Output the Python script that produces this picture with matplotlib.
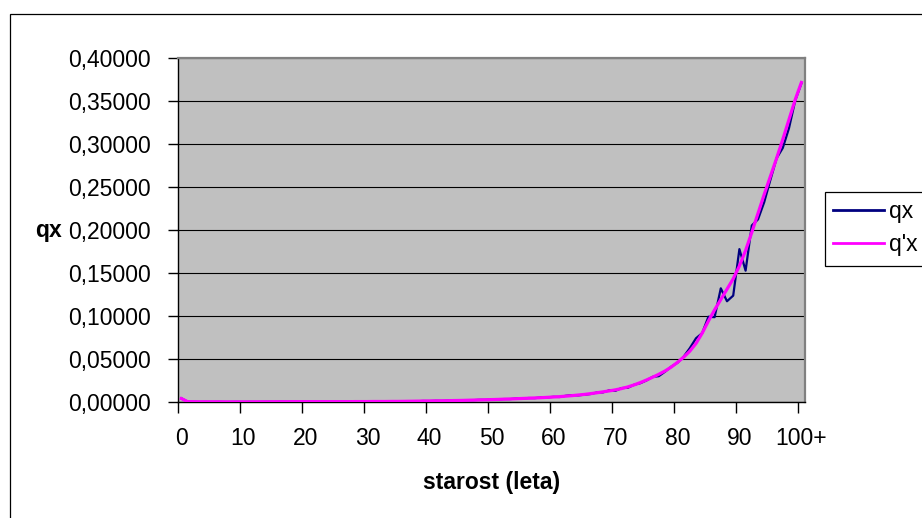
import matplotlib
matplotlib.use("Agg")
import matplotlib.pyplot as plt
from matplotlib.patches import Rectangle
from matplotlib.ticker import FixedLocator, FuncFormatter, NullFormatter

plt.rcParams['font.family'] = ['Liberation Sans', 'DejaVu Sans']

# Age categories 0..100 (last one is "100+")
ages = list(range(101))
x_tick_labels = [str(a) for a in range(0, 100, 10)] + ["100+"]

# Observed mortality rates qx
qx = [
    0.0042, 0.0003, 0.0002, 0.0001, 0.0002, 0.0001, 0.0002, 0.0001, 0.0001, 0.0002,
    0.0001, 0.0002, 0.0001, 0.0002, 0.0003, 0.0002, 0.0004, 0.0003, 0.0004, 0.0003,
    0.0005, 0.0004, 0.0003, 0.0005, 0.0004, 0.0003, 0.0005, 0.0004, 0.0005, 0.0006,
    0.0004, 0.0006, 0.0007, 0.0005, 0.0008, 0.0007, 0.0008, 0.0010, 0.0009, 0.0012,
    0.0011, 0.0014, 0.0013, 0.0016, 0.0016, 0.0019, 0.0021, 0.0021, 0.0025, 0.0025,
    0.0030, 0.0029, 0.0034, 0.0034, 0.0040, 0.0040, 0.0046, 0.0045, 0.0052, 0.0053,
    0.0060, 0.0058, 0.0072, 0.0080, 0.0077, 0.0085, 0.0093, 0.0110, 0.0112, 0.0135,
    0.0130, 0.0162, 0.0165, 0.0200, 0.0218, 0.0250, 0.0292, 0.0300, 0.0352, 0.0410,
    0.0455, 0.0525, 0.0625, 0.0740, 0.0800, 0.0990, 0.0985, 0.1320, 0.1170, 0.1235,
    0.1775, 0.1525, 0.2050, 0.2120, 0.2320, 0.2580, 0.2830, 0.2950, 0.3180, 0.3500,
    0.3700,
]

# Smoothed mortality rates q'x
qx_smooth = [
    0.0040, 0.0004, 0.0003, 0.0002, 0.0002, 0.0002, 0.0002, 0.0001, 0.0001, 0.0001,
    0.0001, 0.0001, 0.0002, 0.0002, 0.0002, 0.0003, 0.0003, 0.0003, 0.0004, 0.0004,
    0.0004, 0.0004, 0.0004, 0.0004, 0.0004, 0.0004, 0.0004, 0.0004, 0.0005, 0.0005,
    0.0005, 0.0006, 0.0006, 0.0006, 0.0007, 0.0007, 0.0008, 0.0009, 0.0010, 0.0011,
    0.0012, 0.0013, 0.0014, 0.0015, 0.0017, 0.0018, 0.0020, 0.0022, 0.0024, 0.0026,
    0.0028, 0.0030, 0.0033, 0.0035, 0.0038, 0.0041, 0.0044, 0.0047, 0.0050, 0.0054,
    0.0058, 0.0062, 0.0068, 0.0074, 0.0081, 0.0088, 0.0097, 0.0107, 0.0118, 0.0129,
    0.0141, 0.0156, 0.0175, 0.0198, 0.0225, 0.0255, 0.0287, 0.0322, 0.0360, 0.0405,
    0.0460, 0.0520, 0.0590, 0.0680, 0.0800, 0.0940, 0.1070, 0.1190, 0.1310, 0.1430,
    0.1580, 0.1760, 0.1970, 0.2190, 0.2410, 0.2620, 0.2830, 0.3050, 0.3280, 0.3510,
    0.3710,
]

W, H = 922, 518
fig = plt.figure(figsize=(W / 100, H / 100), dpi=100)
fig.patch.set_facecolor("white")

# Outer chart border (runs off the right and bottom edges)
fig.add_artist(Rectangle((9.5 / W, -0.2), 1.2, (H - 14) / H + 0.2,
                         transform=fig.transFigure, fill=False,
                         edgecolor="black", linewidth=0.9))

left, right, top, bottom = 178.3, 804.5, 57.5, 402.0
ax = fig.add_axes([left / W, 1 - bottom / H, (right - left) / W, (bottom - top) / H])
ax.set_facecolor("#C0C0C0")

# Each category occupies one unit; points sit in the middle of their category
xpos = [a + 0.5 for a in ages]
ax.plot(xpos, qx, color="#000080", linewidth=1.6, label="qx", zorder=3)
ax.plot(xpos, qx_smooth, color="#FF00FF", linewidth=2.3, label="q'x", zorder=4)

ax.set_xlim(0, 101)
ax.set_ylim(0, 0.40)

# Category boundaries carry the tick marks, labels sit at category centres
ax.xaxis.set_major_locator(FixedLocator(list(range(0, 101, 10))))
ax.xaxis.set_major_formatter(NullFormatter())
ax.xaxis.set_minor_locator(FixedLocator([a + 0.5 for a in range(0, 101, 10)]))
ax.xaxis.set_minor_formatter(FuncFormatter(lambda v, p: x_tick_labels[int(v) // 10]))
ax.tick_params(axis="x", which="major", direction="out", length=8, width=1, color="black")
ax.tick_params(axis="x", which="minor", length=0, pad=18, labelsize=16.5)

yticks = [i * 0.05 for i in range(9)]
ax.yaxis.set_major_locator(FixedLocator(yticks))
ax.yaxis.set_major_formatter(FuncFormatter(lambda v, p: f"{v:.5f}".replace(".", ",")))
ax.tick_params(axis="y", which="major", direction="out", length=7, width=1,
               color="black", pad=13, labelsize=16.5)

ax.grid(axis="y", color="black", linewidth=0.8, zorder=1)
ax.set_axisbelow(True)

for side in ("top", "right"):
    ax.spines[side].set_color("#808080")
    ax.spines[side].set_linewidth(1.6)
for side in ("left", "bottom"):
    ax.spines[side].set_color("black")
    ax.spines[side].set_linewidth(1.0)

ax.set_ylabel("qx", fontsize=16.5, fontweight="bold", rotation=0, va="center", ha="center")
ax.yaxis.set_label_coords((49 - left) / (right - left), (bottom - 230) / (bottom - top))
ax.set_xlabel("starost (leta)", fontsize=16.5, fontweight="bold")
ax.xaxis.label.set_va("center")
ax.xaxis.set_label_coords(0.5, -(482 - bottom) / (bottom - top))

# Legend frame: a white box that runs past the right edge of the figure
leg_x0, leg_top, leg_bot = 825.3, 191.7, 266.0
fig.add_artist(Rectangle((leg_x0 / W, 1 - leg_bot / H), 0.2, (leg_bot - leg_top) / H,
                         transform=fig.transFigure, facecolor="white",
                         edgecolor="black", linewidth=0.9, zorder=5))
handles, labels = ax.get_legend_handles_labels()
leg = fig.legend(handles, labels, loc="upper left",
                 bbox_to_anchor=(leg_x0 / W, 1 - leg_top / H),
                 bbox_transform=fig.transFigure, frameon=False,
                 fontsize=16.5, handlelength=2.2, handletextpad=0.25,
                 labelspacing=0.45, borderpad=0.35, borderaxespad=0)
leg.set_zorder(6)
for line in leg.get_lines():
    line.set_linewidth(2.0)

fig.savefig("out.png", dpi=100)
